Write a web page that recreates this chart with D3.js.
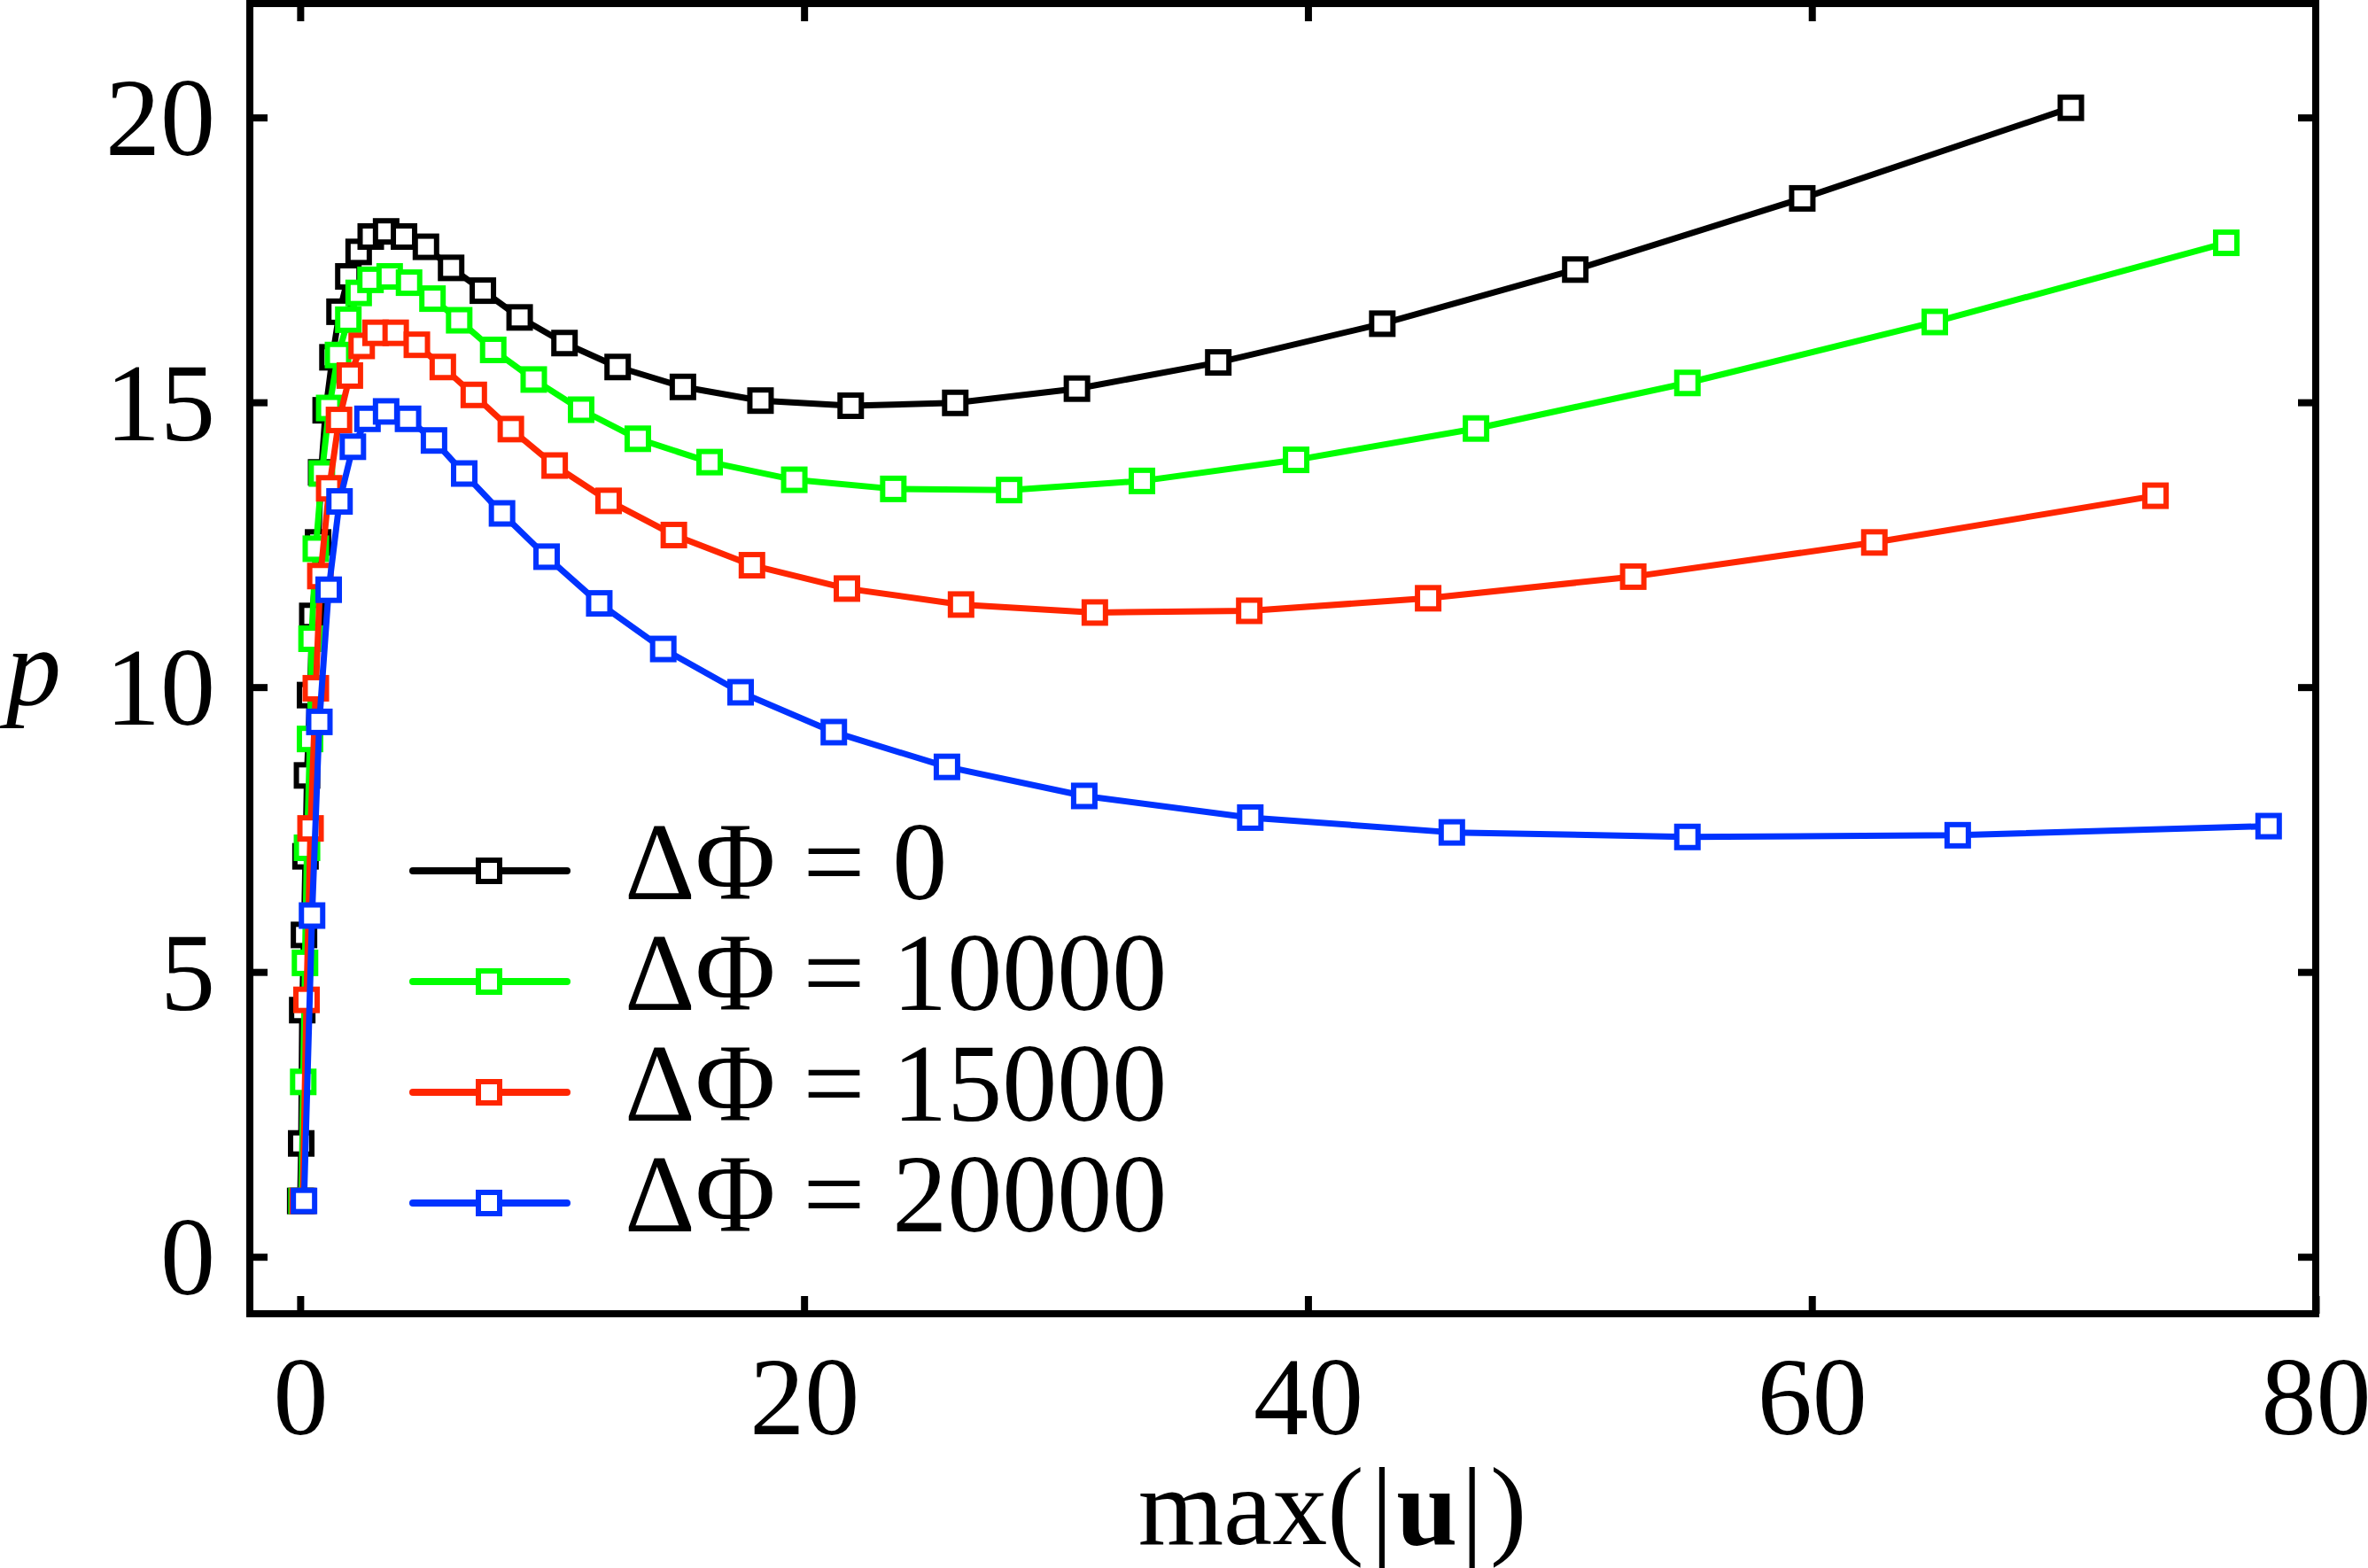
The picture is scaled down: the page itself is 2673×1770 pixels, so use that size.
<!DOCTYPE html>
<html>
<head>
<meta charset="utf-8">
<script src="https://cdn.jsdelivr.net/npm/d3@7/dist/d3.min.js"></script>
<style>
  body { margin: 0; background: #fff; }
  text { font-family: "Liberation Serif", "Times New Roman", serif; fill: #000; }
</style>
</head>
<body>
<div id="chart"></div>
<script>
// p vs max(|u|) for four values of ΔΦ
const seriesNames = ['ΔΦ = 0', 'ΔΦ = 10000', 'ΔΦ = 15000', 'ΔΦ = 20000'];
const seriesColors = ['#000000', '#00ff00', '#ff2600', '#0033ff'];

const dphi0 = [
  [0.0, 0.98], [0.04, 1.99], [0.08, 4.33], [0.15, 5.65], [0.21, 7.03], [0.27, 8.45], [0.39, 9.86],
  [0.48, 11.25], [0.71, 12.54], [0.83, 13.77], [1.01, 14.86], [1.28, 15.79], [1.56, 16.59],
  [1.91, 17.21], [2.32, 17.64], [2.80, 17.91], [3.41, 18.0], [4.12, 17.91], [4.99, 17.73],
  [5.99, 17.36], [7.25, 16.96], [8.71, 16.49], [10.49, 16.04], [12.6, 15.62], [15.19, 15.27],
  [18.27, 15.03], [21.85, 14.94], [26.0, 14.99], [30.83, 15.24], [36.44, 15.7], [42.95, 16.38],
  [50.61, 17.33], [59.62, 18.58], [70.28, 20.17]
];
const dphi10000 = [
  [0.05, 0.98], [0.12, 3.07], [0.19, 5.16], [0.27, 7.18], [0.39, 9.09], [0.45, 10.85], [0.62, 12.43],
  [0.86, 13.75], [1.15, 14.9], [1.5, 15.83], [1.91, 16.45], [2.32, 16.92], [2.79, 17.15],
  [3.55, 17.21], [4.32, 17.1], [5.25, 16.82], [6.31, 16.44], [7.66, 15.92], [9.27, 15.4],
  [11.15, 14.87], [13.4, 14.36], [16.25, 13.95], [19.61, 13.64], [23.54, 13.48], [28.14, 13.46],
  [33.41, 13.62], [39.53, 13.99], [46.67, 14.54], [55.06, 15.34], [64.88, 16.41], [76.45, 17.8]
];
const dphi15000 = [
  [0.1, 0.98], [0.25, 4.51], [0.41, 7.52], [0.62, 9.98], [0.8, 11.95], [1.15, 13.49], [1.54, 14.69],
  [1.97, 15.47], [2.44, 15.99], [2.99, 16.22], [3.79, 16.22], [4.63, 16.01], [5.66, 15.62],
  [6.89, 15.13], [8.36, 14.53], [10.1, 13.89], [12.24, 13.27], [14.83, 12.67], [17.93, 12.14],
  [21.7, 11.73], [26.23, 11.45], [31.54, 11.31], [37.67, 11.34], [44.77, 11.56], [52.91, 11.94],
  [62.48, 12.54], [73.64, 13.36]
];
const dphi20000 = [
  [0.15, 0.98], [0.47, 5.99], [0.76, 9.39], [1.13, 11.71], [1.56, 13.26], [2.09, 14.22], [2.67, 14.71],
  [3.41, 14.84], [4.28, 14.71], [5.31, 14.33], [6.51, 13.75], [8.01, 13.05], [9.78, 12.29],
  [11.87, 11.47], [14.41, 10.67], [17.48, 9.91], [21.18, 9.21], [25.67, 8.6], [31.12, 8.09],
  [37.71, 7.71], [45.71, 7.45], [55.06, 7.37], [65.79, 7.4], [78.13, 7.56]
];
const allSeries = [dphi0, dphi10000, dphi15000, dphi20000];

const xTicks = [0, 20, 40, 60, 80];
const yTicks = [0, 5, 10, 15, 20];

const W = 2673, H = 1770, M = { t: 4, r: 59, b: 287, l: 282 };
const FS = 124, TICK = 20;

const svg = d3.select('#chart').append('svg').attr('width', W).attr('height', H);
const x = d3.scaleLinear().domain([-2, 80]).range([M.l, W - M.r]);
const y = d3.scaleLinear().domain([-1, 22]).range([H - M.b, M.t]);

// curves, black first so blue ends on top
const line = d3.line().x(d => x(d[0])).y(d => y(d[1]));
allSeries.forEach((data, i) => {
  const g = svg.append('g');
  g.append('path').datum(data)
    .attr('d', line).attr('fill', 'none')
    .attr('stroke', seriesColors[i]).attr('stroke-width', 7)
    .attr('stroke-linejoin', 'round');
  g.selectAll('rect').data(data).enter().append('rect')
    .attr('x', d => x(d[0]) - 12).attr('y', d => y(d[1]) - 12)
    .attr('width', 24).attr('height', 24)
    .attr('fill', '#fff').attr('stroke', seriesColors[i]).attr('stroke-width', 6);
});

// axes: inward ticks on all four sides
function styleAxis(g) {
  g.select('.domain').remove();
  g.selectAll('.tick line').attr('stroke', '#000').attr('stroke-width', 8);
  g.selectAll('text').attr('font-size', FS).attr('font-family', '"Liberation Serif", serif').attr('fill', '#000');
}
svg.append('g').attr('transform', `translate(0,${y(-1)})`)
  .call(d3.axisBottom(x).tickValues(xTicks).tickFormat(d3.format('d')).tickSizeInner(-TICK).tickSizeOuter(0))
  .call(styleAxis)
  .call(g => g.selectAll('text').attr('y', 136).attr('dy', 0));
svg.append('g').attr('transform', `translate(0,${y(22)})`)
  .call(d3.axisTop(x).tickValues(xTicks.slice(0, 4)).tickFormat('').tickSizeInner(-TICK).tickSizeOuter(0))
  .call(styleAxis);
svg.append('g').attr('transform', `translate(${x(-2)},0)`)
  .call(d3.axisLeft(y).tickValues(yTicks).tickFormat(d3.format('d')).tickSizeInner(-TICK).tickSizeOuter(0))
  .call(styleAxis)
  .call(g => g.selectAll('text').attr('x', -39).attr('dy', '0.34em'));
svg.append('g').attr('transform', `translate(${x(80)},0)`)
  .call(d3.axisRight(y).tickValues(yTicks).tickFormat('').tickSizeInner(-TICK).tickSizeOuter(0))
  .call(styleAxis);

// frame
svg.append('rect')
  .attr('x', x(-2)).attr('y', y(22))
  .attr('width', x(80) - x(-2)).attr('height', y(-1) - y(22))
  .attr('fill', 'none').attr('stroke', '#000').attr('stroke-width', 8);

// axis titles
const xt = svg.append('text').attr('x', 1504).attr('y', 1743)
  .attr('text-anchor', 'middle').attr('font-size', FS);
xt.append('tspan').text('max(');
xt.append('tspan').attr('dx', 8).text('|');
xt.append('tspan').attr('dx', 4).attr('font-weight', 'bold').text('u');
xt.append('tspan').attr('dx', 4).text('|');
xt.append('tspan').attr('dx', 8).text(')');

svg.append('text').attr('x', 38).attr('y', 795)
  .attr('text-anchor', 'middle').attr('font-size', FS).attr('font-style', 'italic').text('p');

// legend
const leg = svg.append('g').selectAll('g').data(seriesNames).enter().append('g')
  .attr('transform', (d, i) => `translate(0,${983 + i * 125})`);
leg.append('line').attr('x1', 466).attr('x2', 640)
  .attr('stroke', (d, i) => seriesColors[i]).attr('stroke-width', 8).attr('stroke-linecap', 'round');
leg.append('rect').attr('x', 552 - 12).attr('y', -12).attr('width', 24).attr('height', 24)
  .attr('fill', '#fff').attr('stroke', (d, i) => seriesColors[i]).attr('stroke-width', 6);
leg.append('text').attr('x', 705).attr('y', 32).attr('font-size', FS).text(d => d);
</script>
</body>
</html>
